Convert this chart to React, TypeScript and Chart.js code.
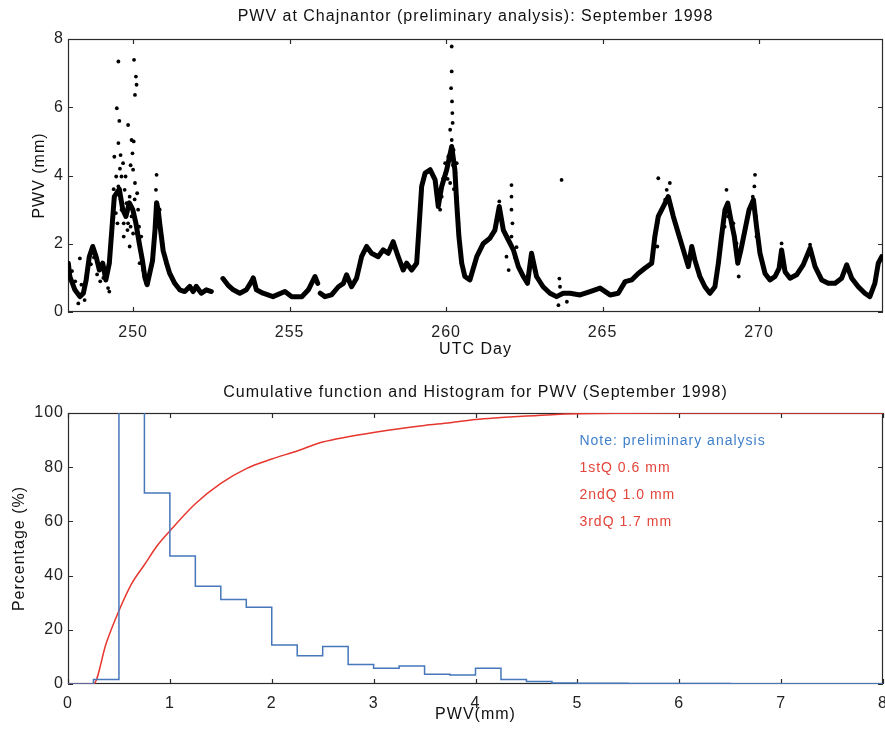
import React, { useEffect, useRef } from 'react';
import { Chart, registerables } from 'chart.js';

Chart.register(...registerables);

const FONT = "'Liberation Sans', Arial, Helvetica, sans-serif";

// ---------- Top panel: PWV time series ----------
const topTitle = 'PWV at Chajnantor (preliminary analysis): September 1998';
const dayTicks = [250, 255, 260, 265, 270];
const pwvTicks = [0, 2, 4, 6, 8];

// main trace (null = data gap)
const traceDays = [
  247.93, 247.98, 248.14, 248.3, 248.41, 248.5, 248.6, 248.71, 248.82, 248.92, 249.03, 249.13, 249.24, 249.32,
  249.4, 249.56, 249.67, 249.77, 249.88, 249.99, 250.09, 250.2, 250.3, 250.38, 250.45, 250.62, 250.7, 250.75,
  250.8, 250.85, 250.96, 251.07, 251.17, 251.33, 251.49, 251.65, 251.81, 251.92, 252.02, 252.18, 252.34, 252.5,
  252.7,
  252.87, 253.03, 253.2, 253.41, 253.62, 253.78, 253.84, 253.94, 254.15, 254.47, 254.85, 255.07, 255.39, 255.6,
  255.81, 255.9,
  255.94,
  255.98, 256.13, 256.34, 256.56, 256.72, 256.82, 256.98, 257.14, 257.3, 257.46, 257.62, 257.83, 257.99, 258.15,
  258.31, 258.47, 258.63, 258.74, 258.9, 259.06, 259.13, 259.22, 259.33, 259.49, 259.65, 259.75, 259.86, 260.02,
  260.18, 260.28, 260.34, 260.41, 260.5, 260.6, 260.76, 260.98, 261.19, 261.4, 261.56, 261.7, 261.83, 261.99,
  262.15, 262.31, 262.47, 262.6, 262.73, 262.89, 263.1, 263.32, 263.53, 263.74, 263.96, 264.28, 264.6, 264.92,
  265.24, 265.5, 265.72, 265.93, 266.14, 266.35, 266.57, 266.67, 266.78, 266.94, 267.1, 267.26, 267.42, 267.58,
  267.74, 267.85, 267.95, 268.11, 268.27, 268.43, 268.59, 268.7, 268.8, 268.91, 269.0, 269.1, 269.21, 269.32,
  269.42, 269.55, 269.68, 269.82, 269.92, 270.03, 270.19, 270.35, 270.51, 270.64, 270.72, 270.83, 270.99, 271.2,
  271.41, 271.63, 271.79, 272.0, 272.21, 272.43, 272.64, 272.8, 272.96, 273.17, 273.38, 273.54, 273.7, 273.81,
  273.92,
];
const tracePwv = [
  1.43, 1.04, 0.65, 0.45, 0.55, 0.94, 1.62, 1.92, 1.62, 1.23, 1.43, 0.94, 1.43, 2.4,
  3.38, 3.6, 3.0, 2.8, 3.2, 3.0, 2.6, 2.0, 1.5, 1.0, 0.8, 1.5, 2.4, 3.2,
  3.0, 2.6, 1.8, 1.43, 1.13, 0.84, 0.65, 0.6, 0.75, 0.6, 0.75, 0.55, 0.65, 0.6,
  null,
  0.98, 0.79, 0.65, 0.55, 0.65, 0.89, 1.0, 0.65, 0.55, 0.45, 0.6, 0.45, 0.45, 0.65,
  1.04, 0.84,
  null,
  0.55, 0.45, 0.5, 0.74, 0.84, 1.09, 0.74, 0.99, 1.62, 1.92, 1.72, 1.62, 1.82, 1.72,
  2.06, 1.62, 1.23, 1.43, 1.23, 1.43, 2.4, 3.68, 4.07, 4.17, 3.87, 3.09, 3.68, 4.17,
  4.85, 4.17, 3.19, 2.21, 1.43, 1.04, 0.94, 1.62, 2.01, 2.16, 2.4, 3.09, 2.4, 2.11,
  1.82, 1.33, 1.04, 0.84, 1.72, 1.04, 0.74, 0.55, 0.45, 0.55, 0.55, 0.5, 0.6, 0.7,
  0.5, 0.55, 0.89, 0.94, 1.13, 1.28, 1.43, 2.21, 2.8, 3.09, 3.38, 2.8, 2.31, 1.82,
  1.33, 1.92, 1.52, 1.04, 0.74, 0.55, 0.74, 1.43, 2.21, 2.99, 3.19, 2.7, 2.21, 1.43,
  1.82, 2.4, 2.99, 3.29, 2.5, 1.72, 1.13, 0.94, 1.04, 1.28, 1.82, 1.18, 0.99, 1.09,
  1.38, 1.87, 1.33, 0.94, 0.84, 0.84, 0.99, 1.38, 0.99, 0.74, 0.55, 0.45, 0.84, 1.43,
  1.62,
];

// scattered readings (spikes and noisy clouds)
const cloudDays = [
  248.3, 249.24, 249.53, 249.48, 249.56, 249.53, 249.6, 249.46, 249.53, 249.68, 249.73, 249.79, 249.63, 249.7,
  249.84, 249.89, 249.95, 249.98, 250.0, 250.03, 250.09, 250.11, 250.06, 250.06, 250.13, 249.89, 249.84, 249.95,
  250.16, 250.19, 250.26, 250.29, 250.32, 250.21, 250.42, 250.36, 249.4, 249.35, 249.63, 249.76, 250.75, 250.73,
  250.77, 250.8, 250.75, 250.85, 250.91, 249.45, 249.6, 249.7, 249.82, 249.92, 250.0, 250.05, 250.12, 250.25,
  249.38, 249.5, 249.92, 250.02, 249.58,
  248.05, 248.15, 248.25, 248.35, 248.45, 248.65, 248.75, 248.85, 248.95, 249.05, 249.15, 249.2,
  260.18, 260.18, 260.16, 260.19, 260.2, 260.21, 260.13, 260.18, 260.24, 260.07, 260.34, 259.97, 260.3, 260.34,
  259.86, 259.81, 259.75, 260.39, 260.13, 259.9, 260.05, 260.1, 260.22, 260.25,
  262.09, 262.09, 262.09, 262.12, 262.09, 261.93, 262.0, 261.7, 262.2, 262.25,
  263.69, 263.62, 263.59, 263.86, 263.64,
  266.78, 267.15, 267.05, 267.0, 266.75, 266.75,
  268.96, 269.01, 268.9, 269.18, 269.28, 269.33, 269.35, 269.87, 269.85, 269.8, 269.78, 269.9, 269.92,
  270.72, 271.63,
];
const cloudPwv = [
  1.57, 0.6, 7.34, 5.97, 5.6, 4.95, 4.6, 3.97, 3.68, 4.36, 3.58, 3.19, 3.0, 2.21,
  5.48, 1.92, 5.04, 4.65, 4.17, 7.39, 6.9, 6.66, 6.36, 3.78, 3.48, 3.38, 2.6, 2.8,
  3.0, 2.5, 2.21, 1.62, 1.23, 1.43, 0.84, 1.04, 4.55, 2.8, 3.97, 3.97, 4.02, 3.58,
  3.19, 2.8, 2.5, 3.0, 2.21, 2.9, 3.3, 2.6, 2.4, 2.5, 2.3, 3.3, 2.3, 1.8,
  3.6, 2.6, 4.3, 5.0, 4.2,
  1.2, 0.9, 0.25, 0.8, 0.35, 1.4, 1.6, 1.1, 0.9, 1.0, 1.2, 0.7,
  7.78, 7.05, 6.56, 6.17, 5.83, 5.54, 5.34, 5.04, 4.75, 4.55, 4.36, 4.36, 4.07, 3.38,
  3.38, 3.0, 3.58, 2.6, 3.78, 3.9, 3.9, 4.6, 4.3, 3.6,
  3.72, 3.38, 3.0, 2.6, 2.21, 1.62, 1.23, 3.24, 1.6, 1.9,
  3.87, 0.98, 0.2, 0.3, 0.74,
  3.92, 3.78, 3.58, 3.29, 2.6, 1.92,
  3.58, 2.8, 2.5, 2.6, 2.01, 1.43, 1.04, 4.02, 3.68, 3.38, 3.09, 2.8, 2.21,
  2.01, 1.97,
];

// ---------- Bottom panel: histogram + cumulative ----------
const bottomTitle = 'Cumulative function and Histogram for PWV (September 1998)';
const pwvAxisTicks = [0, 1, 2, 3, 4, 5, 6, 7, 8];
const pctTicks = [0, 20, 40, 60, 80, 100];

// histogram bin left edges (width 0.25 mm) and percentages
const binEdges = [
  0, 0.25, 0.5, 0.75, 1.0, 1.25, 1.5, 1.75, 2.0, 2.25, 2.5, 2.75, 3.0, 3.25, 3.5, 3.75, 4.0, 4.25, 4.5, 4.75,
  5.0, 5.5, 6.0, 6.5, 7.0, 8.0,
];
const binPct = [
  0, 1.7, 135, 70.5, 47.2, 36.1, 31.2, 28.3, 14.4, 10.4, 13.8, 7.2, 5.8, 6.6, 3.6, 3.3, 5.8, 1.7, 0.9, 0.4,
  0.3, 0.2, 0.15, 0.1, 0.05, 0.05,
];

const cumX = [
  0, 0.25, 0.375, 0.5, 0.625, 0.75, 0.875, 1.0, 1.25, 1.5, 1.75, 2.0, 2.25, 2.5, 2.75, 3.0, 3.25, 3.5, 3.75,
  4.0, 4.25, 4.5, 4.75, 5.0, 5.5, 6.0, 8.0,
];
const cumPct = [
  0, 0, 15, 27, 37, 44, 51, 56.5, 66.5, 74, 79.5, 83, 86, 89.3, 91.2, 92.8, 94.2, 95.4, 96.4,
  97.6, 98.3, 98.9, 99.4, 99.7, 99.9, 100, 100,
];

const noteLabels = ['Note: preliminary analysis', '1stQ 0.6 mm', '2ndQ 1.0 mm', '3rdQ 1.7 mm'];
const noteYs = [89.5, 79.7, 69.8, 59.9];
const noteX = 5.02;

const BLUE = '#4677bb';
const RED = '#e6362e';
const NOTE_BLUE = '#3f7fcb';
const NOTE_RED = '#e3443a';
const noteColors = [NOTE_BLUE, NOTE_RED, NOTE_RED, NOTE_RED];

// ---------- plugins ----------
const spacingPlugin = {
  id: 'letterSpacing',
  beforeDraw(chart: any) {
    (chart.ctx as any).letterSpacing = '1px';
  },
};

const boxPlugin = {
  id: 'matlabBox',
  beforeDatasetsDraw(chart: any) {
    const { ctx, chartArea: a, scales } = chart;
    ctx.save();
    ctx.strokeStyle = '#2a2a2a';
    ctx.lineWidth = 1.2;
    ctx.strokeRect(a.left + 0.5, a.top + 0.5, a.right - a.left - 1, a.bottom - a.top - 1);
    const L = 5;
    ctx.beginPath();
    scales.x.ticks.forEach((t: any) => {
      const x = Math.round(scales.x.getPixelForValue(t.value)) + 0.5;
      ctx.moveTo(x, a.bottom);
      ctx.lineTo(x, a.bottom - L);
      ctx.moveTo(x, a.top);
      ctx.lineTo(x, a.top + L);
    });
    scales.y.ticks.forEach((t: any) => {
      const y = Math.round(scales.y.getPixelForValue(t.value)) + 0.5;
      ctx.moveTo(a.left, y);
      ctx.lineTo(a.left + L, y);
      ctx.moveTo(a.right, y);
      ctx.lineTo(a.right - L, y);
    });
    ctx.stroke();
    ctx.restore();
  },
};

const notePlugin = {
  id: 'noteText',
  afterDatasetsDraw(chart: any, _args: any, opts: any) {
    if (!opts || !opts.labels) return;
    const { ctx, scales } = chart;
    ctx.save();
    ctx.font = `14px ${FONT}`;
    ctx.textAlign = 'left';
    ctx.textBaseline = 'middle';
    opts.labels.forEach((txt: string, i: number) => {
      ctx.fillStyle = opts.colors[i];
      ctx.fillText(txt, scales.x.getPixelForValue(opts.x), scales.y.getPixelForValue(opts.ys[i]));
    });
    ctx.restore();
  },
};

const fixedTicks = (vals: number[]) => (scale: any) => {
  scale.ticks = vals.map((v) => ({ value: v }));
};

function axisX(min: number, max: number, ticks: number[], title: string, height: number, titlePad: number, tickPad: number) {
  return {
    type: 'linear',
    min,
    max,
    grid: { display: false, drawTicks: false },
    border: { display: false },
    afterBuildTicks: fixedTicks(ticks),
    afterFit: (s: any) => {
      s.height = height;
      s.paddingLeft = 0;
      s.paddingRight = 0;
    },
    ticks: { font: { family: FONT, size: 16 }, color: '#222', padding: tickPad, maxRotation: 0, autoSkip: false },
    title: { display: true, text: title, font: { family: FONT, size: 16 }, color: '#111', padding: { top: 0, bottom: titlePad } },
  };
}

function axisY(min: number, max: number, ticks: number[], title: string, titlePad: number) {
  return {
    type: 'linear',
    min,
    max,
    grid: { display: false, drawTicks: false },
    border: { display: false },
    afterBuildTicks: fixedTicks(ticks),
    afterFit: (s: any) => {
      s.width = 68;
      s.paddingTop = 0;
      s.paddingBottom = 0;
    },
    ticks: { font: { family: FONT, size: 16 }, color: '#222', padding: 4, autoSkip: false },
    title: { display: true, text: title, font: { family: FONT, size: 16 }, color: '#111', padding: { top: titlePad, bottom: 0 } },
  };
}

function TopChart() {
  const ref = useRef<HTMLCanvasElement>(null);
  useEffect(() => {
    const trace = traceDays.map((d, i) => ({ x: d, y: tracePwv[i] }));
    const cloud = cloudDays.map((d, i) => ({ x: d, y: cloudPwv[i] }));
    const chart = new Chart(ref.current as HTMLCanvasElement, {
      type: 'scatter',
      data: {
        datasets: [
          {
            type: 'line',
            data: trace as any,
            borderColor: '#000',
            borderWidth: 5,
            pointRadius: 1.8,
            pointBackgroundColor: '#000',
            pointBorderWidth: 0,
            spanGaps: false,
            tension: 0,
            borderJoinStyle: 'round',
            borderCapStyle: 'round',
          } as any,
          {
            type: 'scatter',
            data: cloud as any,
            pointRadius: 1.9,
            backgroundColor: '#000',
            borderWidth: 0,
          } as any,
        ],
      },
      options: {
        responsive: false,
        animation: false,
        layout: { autoPadding: false, padding: { left: 0, right: 2, top: 0, bottom: 0 } },
        plugins: {
          legend: { display: false },
          tooltip: { enabled: false },
          title: {
            display: true,
            fullSize: false,
            text: topTitle,
            color: '#111',
            font: { family: FONT, size: 16, weight: 'normal' },
            padding: { top: 7.4, bottom: 12.4 },
          },
        },
        scales: {
          x: axisX(247.92, 273.96, dayTicks, 'UTC Day', 53, 5.4, 10.5) as any,
          y: axisY(0, 8, pwvTicks, 'PWV (mm)', 30.4) as any,
        },
      } as any,
      plugins: [spacingPlugin, boxPlugin],
    });
    return () => chart.destroy();
  }, []);
  return <canvas ref={ref} width={885} height={365} style={{ display: 'block', width: 885, height: 365 }} />;
}

function BottomChart() {
  const ref = useRef<HTMLCanvasElement>(null);
  useEffect(() => {
    const hist = binEdges.map((e, i) => ({ x: e, y: binPct[i] }));
    const cum = cumX.map((x, i) => ({ x, y: cumPct[i] }));
    const chart = new Chart(ref.current as HTMLCanvasElement, {
      type: 'line',
      data: {
        datasets: [
          {
            data: hist as any,
            borderColor: BLUE,
            borderWidth: 1.5,
            pointRadius: 0,
            stepped: 'before',
            tension: 0,
          } as any,
          {
            data: cum as any,
            borderColor: RED,
            borderWidth: 1.5,
            pointRadius: 0,
            cubicInterpolationMode: 'monotone',
          } as any,
        ],
      },
      options: {
        responsive: false,
        animation: false,
        layout: { autoPadding: false, padding: { left: 0, right: 2, top: 0, bottom: 0 } },
        plugins: {
          legend: { display: false },
          tooltip: { enabled: false },
          title: {
            display: true,
            fullSize: false,
            text: bottomTitle,
            color: '#111',
            font: { family: FONT, size: 16, weight: 'normal' },
            padding: { top: 17.9, bottom: 10.9 },
          },
          noteText: { labels: noteLabels, ys: noteYs, x: noteX, colors: noteColors },
        } as any,
        scales: {
          x: axisX(0, 8, pwvAxisTicks, 'PWV(mm)', 51, 10.4, 9.5) as any,
          y: axisY(0, 100, pctTicks, 'Percentage (%)', 10.4) as any,
        },
      } as any,
      plugins: [spacingPlugin, boxPlugin, notePlugin],
    });
    return () => chart.destroy();
  }, []);
  return <canvas ref={ref} width={885} height={370} style={{ display: 'block', width: 885, height: 370 }} />;
}

export default function App() {
  return (
    <div style={{ position: 'absolute', left: 0, top: 0, width: 885, height: 735, background: '#fff' }}>
      <TopChart />
      <BottomChart />
    </div>
  );
}
